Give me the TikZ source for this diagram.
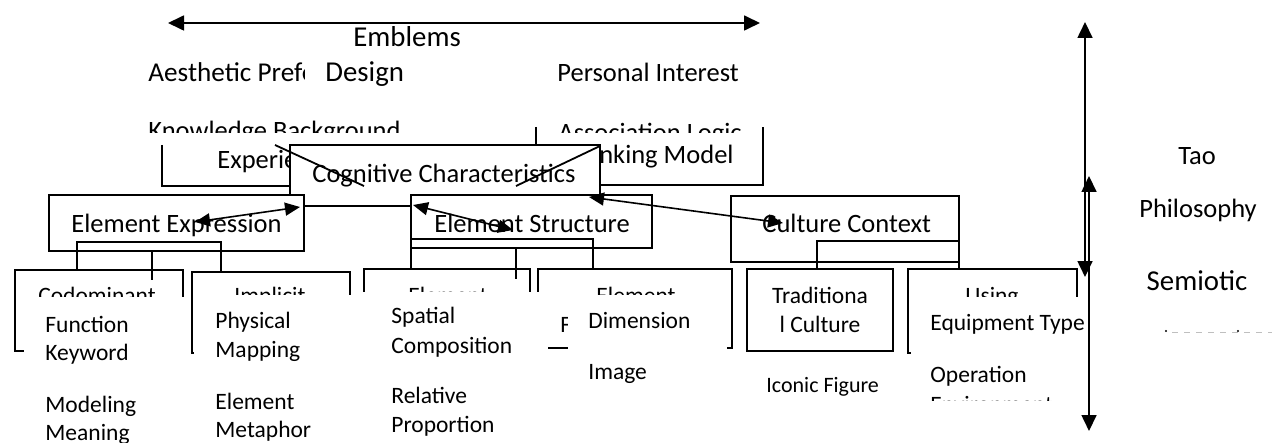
\documentclass[tikz,border=0pt]{standalone}
\usepackage{fontspec}
\setmainfont{Carlito}
\usetikzlibrary{arrows.meta}
\begin{document}
\begin{tikzpicture}[x=0.5pt,y=-0.5pt,
  box/.style={draw,line width=1pt,fill=white,inner sep=0pt,outer sep=0pt},
  ln/.style={line width=1pt},
  thin/.style={line width=0.9pt},
  biarrow/.style={line width=0.8pt,{Triangle[length=7.5pt,width=6.5pt]}-{Triangle[length=7.5pt,width=6.5pt]}},
  bigarrow/.style={line width=0.85pt,{Triangle[length=8pt,width=7.5pt]}-{Triangle[length=8pt,width=7.5pt]}},
  panel/.style={fill=white},
  tL/.style={font=\fontsize{14.4}{17}\selectfont,inner sep=0pt,anchor=base west},
  tM/.style={font=\fontsize{13.25}{16}\selectfont,inner sep=0pt,anchor=base west},
  tS/.style={font=\fontsize{11.75}{14}\selectfont,inner sep=0pt,anchor=base west},
  tX/.style={font=\fontsize{11}{13}\selectfont,inner sep=0pt,anchor=base west},
]
\useasboundingbox (0,0) rectangle (1272,443);

% ---- top band
\coordinate (t1) at (168,23); \coordinate (t2) at (760,23);
\draw[bigarrow] (t1) -- (t2);
\node[tL] (emb) at (353,47) {Emblems};
\node[tM,font=\fontsize{13.6}{16}\selectfont] (aes) at (148,82) {Aesthetic Preference};
\fill[panel] (305,55) rectangle (420,92);
\node[tL] (des) at (325,82) {Design};
\node[tM] (per) at (557,82) {Personal Interest};
\begin{scope}
  \clip (100,100) rectangle (460,133);
  \node[tM] (kno) at (148,140) {Knowledge Background};
\end{scope}
\begin{scope}
  \clip (540,100) rectangle (760,133);
  \node[tM] (ass) at (558,142) {Association Logic};
\end{scope}
\draw[ln] (162,145) -- (162,186) -- (300,186);
\draw[ln] (536,127) -- (536,185) -- (763,185) -- (763,127);
\node[tM] (exp) at (217,169) {Experience};
\node[tM] (thi) at (566,164) {Thinking Model};

% ---- cognitive box
\node[box,minimum width=155pt,minimum height=30.5pt] (cog) at (445,175.5) {};
\node[tM] (cogt) at (312,183) {Cognitive Characteristics};

% ---- second row
\node[box,minimum width=127.5pt,minimum height=28pt] (ee) at (176.5,223) {};
\node[tM] (eet) at (71,232) {Element Expression};
\node[box,minimum width=120.5pt,minimum height=26.5pt] (es) at (531.5,221.5) {};
\node[tM] (est) at (434,232) {Element Structure};
\node[box,minimum width=114pt,minimum height=33pt] (cc) at (845,229) {};
\node[tM] (cct) at (762,232) {Culture Context};

% ---- third row boxes
\node[box,minimum width=84pt,minimum height=40.5pt] (cod) at (99,310.5) {};
\node[box,minimum width=79pt,minimum height=40.5pt] (imp) at (271,312.5) {};
\node[box,minimum width=83pt,minimum height=39.5pt] (b3) at (447,308.5) {};
\node[box,minimum width=97pt,minimum height=39.5pt] (b4) at (635,308.5) {};
\node[box,minimum width=73pt,minimum height=41pt] (tra) at (820,310) {};
\node[box,minimum width=84.5pt,minimum height=42pt] (usi) at (992.5,311) {};

\node[tS,anchor=base] (codt) at (97,303) {Codominant};
\node[tS,anchor=base] (impt) at (270,303) {Implicit};
\node[tS,anchor=base] (b3t) at (448,303) {Element};
\node[tS,anchor=base] (b4t) at (636,303) {Element};
\node[tS,anchor=base] (usit) at (992,303) {Using};
\node[tS,anchor=base] (trat1) at (820,303) {Traditiona};
\node[tS,anchor=base] (trat2) at (820,332) {l Culture};
\node[tS] (ff) at (560,332) {F};

% ---- brackets
\coordinate (e1) at (77,242); \coordinate (e2) at (221,242);
\draw[ln] (cod.north -| e1) -- (e1) -- (e2) -- (imp.north -| e2);
\coordinate (s1) at (152,280);
\draw[ln] (ee.south -| s1) -- (s1);
\coordinate (e3) at (411,239); \coordinate (e4) at (593,239);
\draw[ln] (b3.north -| e3) -- (e3) -- (e4) -- (b4.north -| e4);
\coordinate (s2) at (516,279);
\draw[ln] (es.south -| s2) -- (s2);
\coordinate (e5) at (817,241); \coordinate (e6) at (959,241);
\draw[ln] (tra.north -| e5) -- (e5) -- (e6) -- (usi.north -| e6);

% ---- white text panels
\fill[panel] (24,297) rectangle (189,443);
\fill[panel] (194,295) rectangle (353,443);
\fill[panel] (355,292) rectangle (548,443);
\fill[panel] (568,295) rectangle (727,443);
\fill[panel] (911,297) rectangle (1085,400);

\node[tS] (fun1) at (45,332) {Function};
\node[tS] (fun2) at (45,360) {Keyword};
\node[tS] (mod1) at (45,412) {Modeling};
\node[tS] (mod2) at (45,440) {Meaning};
\node[tS] (phy1) at (215,328) {Physical};
\node[tS] (phy2) at (215,357) {Mapping};
\node[tS] (ele1) at (215,409) {Element};
\node[tS] (ele2) at (215,437) {Metaphor};
\node[tS] (spa1) at (391,323) {Spatial};
\node[tS] (spa2) at (391,353) {Composition};
\node[tS] (rel1) at (391,403) {Relative};
\node[tS] (rel2) at (391,432) {Proportion};
\node[tS] (dim) at (588,328) {Dimension};
\node[tS] (img) at (588,379) {Image};
\node[tX] (ico) at (766,392) {Iconic Figure};
\begin{scope}
  \clip (911,297) rectangle (1100,400);
  \node[tS] (equ) at (930,330) {Equipment Type};
  \node[tS] (ope1) at (930,382) {Operation};
  \node[tS] (ope2) at (930,412) {Environment};
\end{scope}

% ---- connectors
\coordinate (a1) at (195,222); \coordinate (a2) at (300,207);
\draw[biarrow] (a1) -- (a2);
\coordinate (a3) at (413,205); \coordinate (a4) at (513,230);
\draw[biarrow] (a3) -- (a4);
\coordinate (a5) at (589,197); \coordinate (a6) at (783,223);
\draw[biarrow] (a5) -- (a6);
\coordinate (c1) at (275,145); \coordinate (c2) at (364,186);
\draw[thin] (c1) -- (c2);
\coordinate (c3) at (600,146); \coordinate (c4) at (516,186);
\draw[thin] (c3) -- (c4);

% ---- right axis
\coordinate (v1) at (1085,22); \coordinate (v2) at (1085,277);
\draw[bigarrow] (v1) -- (v2);
\coordinate (v3) at (1089,176); \coordinate (v4) at (1089,431);
\draw[bigarrow] (v3) -- (v4);
\node[tM,anchor=base] (tao) at (1197,165) {Tao};
\node[tM,anchor=base] (phi) at (1198,218) {Philosophy};
\node[tL,anchor=base] (sem) at (1197,290) {Semiotic};
\draw[gray!50,line width=0.5pt,dash pattern=on 3pt off 3pt] (1172,332) -- (1272,332);
\fill (1166,331) circle (1.2);
\fill (1238,331) circle (1.2);
\end{tikzpicture}
\end{document}
